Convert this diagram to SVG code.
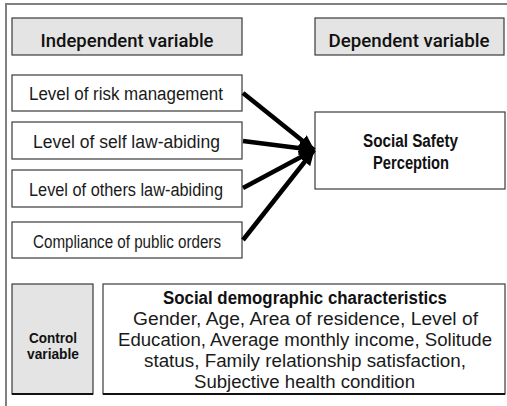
<svg xmlns="http://www.w3.org/2000/svg" width="507" height="406" viewBox="0 0 507 406">
  <defs>
    <marker id="head" markerUnits="userSpaceOnUse" markerWidth="16" markerHeight="14" refX="15" refY="7" orient="auto">
      <path d="M0,0 L16,7 L0,14 Z" fill="#000"/>
    </marker>
    <style>
      .frame { fill: none; stroke: #808080; stroke-width: 2; }
      .hdr { fill: #e4e4e4; stroke: #3a3a3a; stroke-width: 1.2; }
      .box { fill: #fff; stroke: #3a3a3a; stroke-width: 1.2; }
      .t { font-family: "Liberation Sans", Arial, sans-serif; fill: #1a1a1a; }
      .h { font-family: Roboto, "Liberation Sans", sans-serif; font-weight: 500; font-size: 19px; fill: #111; }
      .b { font-family: "Liberation Sans", Arial, sans-serif; font-weight: bold; fill: #111; }
      .item { font-size: 18px; }
      .body { font-size: 17.5px; }
      .link { fill: none; stroke: #000; stroke-width: 4.5; marker-end: url(#head); }
    </style>
  </defs>

  <rect width="507" height="406" fill="#fff"/>
  <!-- outer frame, open to the right and bottom -->
  <path class="frame" d="M6,407 L6,4 L508,4"/>

  <g id="independent-header">
    <rect class="hdr" x="12" y="18" width="230" height="37"/>
    <text class="h" x="127" y="47" text-anchor="middle" textLength="173" lengthAdjust="spacingAndGlyphs">Independent variable</text>
  </g>

  <g id="dependent-header">
    <rect class="hdr" x="315" y="18" width="189" height="37"/>
    <text class="h" x="409" y="47" text-anchor="middle" textLength="161" lengthAdjust="spacingAndGlyphs">Dependent variable</text>
  </g>

  <g id="risk-management">
    <rect class="box" x="12" y="75" width="230" height="36"/>
    <text class="t item" x="126" y="100" text-anchor="middle" textLength="194" lengthAdjust="spacingAndGlyphs">Level of risk management</text>
  </g>

  <g id="self-law-abiding">
    <rect class="box" x="12" y="122" width="230" height="37"/>
    <text class="t item" x="126.5" y="148" text-anchor="middle" textLength="187" lengthAdjust="spacingAndGlyphs">Level of self law-abiding</text>
  </g>

  <g id="others-law-abiding">
    <rect class="box" x="12" y="170" width="230" height="37"/>
    <text class="t item" x="126" y="196" text-anchor="middle" textLength="194" lengthAdjust="spacingAndGlyphs">Level of others law-abiding</text>
  </g>

  <g id="public-orders">
    <rect class="box" x="12" y="222" width="230" height="36"/>
    <text class="t item" x="127" y="248" text-anchor="middle" textLength="188" lengthAdjust="spacingAndGlyphs">Compliance of public orders</text>
  </g>

  <g id="social-safety-perception">
    <rect class="box" x="315" y="112" width="190" height="77"/>
    <text class="b" x="410.5" y="147" font-size="18" text-anchor="middle" textLength="95" lengthAdjust="spacingAndGlyphs">Social Safety</text>
    <text class="b" x="411" y="169" font-size="18" text-anchor="middle" textLength="76" lengthAdjust="spacingAndGlyphs">Perception</text>
  </g>

  <g id="control-variable">
    <rect class="hdr" x="12" y="284" width="81" height="110"/>
    <path d="M12,394 L93,394" stroke="#111" stroke-width="2"/>
    <text class="b" x="53" y="343" font-size="14.5" text-anchor="middle" textLength="48" lengthAdjust="spacingAndGlyphs">Control</text>
    <text class="b" x="53" y="359" font-size="14.5" text-anchor="middle" textLength="52" lengthAdjust="spacingAndGlyphs">variable</text>
  </g>

  <g id="demographics">
    <rect class="box" x="103" y="284" width="402" height="110"/>
    <path d="M103,394 L505,394" stroke="#111" stroke-width="2"/>
    <text class="b" x="305" y="304" font-size="18" text-anchor="middle" textLength="284" lengthAdjust="spacingAndGlyphs">Social demographic characteristics</text>
    <text class="t body" x="305.5" y="325" text-anchor="middle" textLength="345" lengthAdjust="spacingAndGlyphs">Gender, Age, Area of residence, Level of</text>
    <text class="t body" x="305" y="346" text-anchor="middle" textLength="374" lengthAdjust="spacingAndGlyphs">Education, Average monthly income, Solitude</text>
    <text class="t body" x="305" y="367" text-anchor="middle" textLength="322" lengthAdjust="spacingAndGlyphs">status, Family relationship satisfaction,</text>
    <text class="t body" x="304.5" y="388" text-anchor="middle" textLength="221" lengthAdjust="spacingAndGlyphs">Subjective health condition</text>
  </g>

  <g id="connectors">
    <line class="link" x1="243" y1="93" x2="314" y2="150"/>
    <line class="link" x1="243" y1="141" x2="314" y2="150"/>
    <line class="link" x1="243" y1="188" x2="314" y2="150"/>
    <line class="link" x1="243" y1="240" x2="314" y2="150"/>
  </g>
</svg>
